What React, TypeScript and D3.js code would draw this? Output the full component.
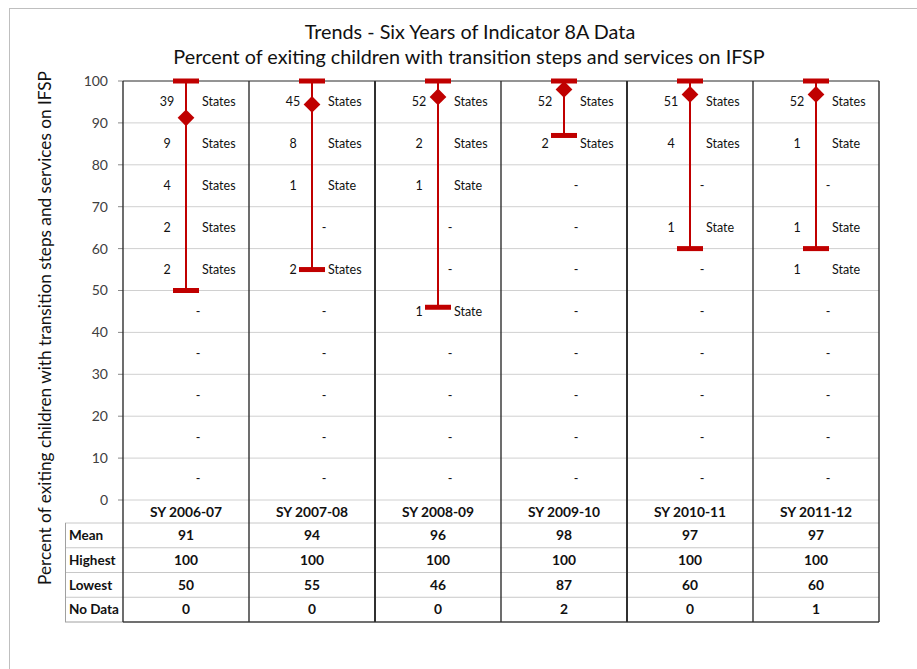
import React from "react";
import * as d3 from "d3";

// school years shown as columns
const years = ["SY 2006-07", "SY 2007-08", "SY 2008-09", "SY 2009-10", "SY 2010-11", "SY 2011-12"];
// mean marker values (table shows rounded)
const meanValues = [91.2, 94.4, 96.2, 98.0, 96.8, 96.8];
const highestValues = [100, 100, 100, 100, 100, 100];
const lowestValues = [50, 55, 46, 87, 60, 60];
const noDataValues = [0, 0, 0, 2, 0, 1];

// number of states per 10-point bin, from 90-100 down to 0-9
const binCenters = [95, 85, 75, 65, 55, 45, 35, 25, 15, 5];
const counts0607 = [39, 9, 4, 2, 2, 0, 0, 0, 0, 0];
const counts0708 = [45, 8, 1, 0, 2, 0, 0, 0, 0, 0];
const counts0809 = [52, 2, 1, 0, 0, 1, 0, 0, 0, 0];
const counts0910 = [52, 2, 0, 0, 0, 0, 0, 0, 0, 0];
const counts1011 = [51, 4, 0, 1, 0, 0, 0, 0, 0, 0];
const counts1112 = [52, 1, 0, 1, 1, 0, 0, 0, 0, 0];
const binCounts = [counts0607, counts0708, counts0809, counts0910, counts1011, counts1112];

const yTicks = [0, 10, 20, 30, 40, 50, 60, 70, 80, 90, 100];
const rowLabels = ["Mean", "Highest", "Lowest", "No Data"];

const RED = "#C00000";
const FONT = "Lato, 'Open Sans', sans-serif";

export default function App() {
  const width = 917;
  const height = 669;
  const plot = { left: 123, right: 879, top: 81, bottom: 500 };
  const tableBottom = 622;
  const labelLeft = 65;

  const x = d3.scaleBand<string>().domain(years).range([plot.left, plot.right]).paddingInner(0).paddingOuter(0);
  const y = d3.scaleLinear().domain([0, 100]).range([plot.bottom, plot.top]);

  const rowScale = d3
    .scaleBand<string>()
    .domain(rowLabels)
    .range([523, tableBottom]);

  const diamond = d3.symbol().type(d3.symbolSquare).size(140)();

  const tableRows = [
    meanValues.map((v) => Math.round(v)),
    highestValues,
    lowestValues,
    noDataValues,
  ];

  const yTitle = "Percent of exiting children with transition steps and services on IFSP";

  return (
    <svg
      width={width}
      height={height}
      style={{ position: "absolute", left: 0, top: 0, display: "block", background: "#fff" }}
      fontFamily={FONT}
    >
      {/* outer chart frame (top + left only visible) */}
      <line x1={9} y1={8.5} x2={width} y2={8.5} stroke="#bfbfbf" />
      <line x1={9.5} y1={8} x2={9.5} y2={height} stroke="#bfbfbf" />

      {/* titles */}
      <text x={470} y={39} textAnchor="middle" fontSize={19.8} fill="#111">
        Trends - Six Years of Indicator 8A Data
      </text>
      <text x={469} y={64} textAnchor="middle" fontSize={19.8} fill="#111">
        {yTitle}
      </text>

      {/* y axis title */}
      <text
        transform={`translate(51, ${328}) rotate(-90)`}
        textAnchor="middle"
        fontSize={17.2}
        fill="#111"
      >
        {yTitle}
      </text>

      {/* gridlines + ticks */}
      {yTicks.map((t) => (
        <g key={t}>
          <line x1={plot.left} x2={plot.right} y1={y(t)} y2={y(t)} stroke="#d0d0d0" strokeWidth={1} />
          <line x1={plot.left - 5} x2={plot.left} y1={y(t)} y2={y(t)} stroke="#888" />
          <text x={plot.left - 15} y={y(t)} dy="0.35em" textAnchor="end" fontSize={14} fill="#404040">
            {t}
          </text>
        </g>
      ))}

      {/* table horizontal lines */}
      {rowLabels.map((r) => (
        <line
          key={r}
          x1={labelLeft}
          x2={plot.right}
          y1={rowScale(r)!}
          y2={rowScale(r)!}
          stroke="#c8c8c8"
        />
      ))}
      <line x1={labelLeft} x2={plot.left} y1={tableBottom} y2={tableBottom} stroke="#a0a0a0" />
      <line x1={plot.left} x2={plot.right} y1={tableBottom} y2={tableBottom} stroke="#404040" strokeWidth={1.5} />
      <line x1={labelLeft + 0.5} x2={labelLeft + 0.5} y1={523} y2={tableBottom} stroke="#a0a0a0" />

      {/* top border of plot */}
      <line x1={plot.left} x2={plot.right} y1={plot.top} y2={plot.top} stroke="#404040" strokeWidth={1.2} />

      {/* column separators */}
      {[...years.map((yr) => x(yr)!), plot.right].map((xx, i) => (
        <line
          key={i}
          x1={xx}
          x2={xx}
          y1={plot.top}
          y2={tableBottom}
          stroke="#303030"
          strokeWidth={i === 2 || i === 4 ? 2 : 1.4}
        />
      ))}

      {/* row labels */}
      {rowLabels.map((r) => (
        <text
          key={r}
          x={labelLeft + 4}
          y={rowScale(r)! + rowScale.bandwidth() / 2}
          dy="0.35em"
          fontSize={13.5}
          fontWeight="bold"
          fill="#111"
        >
          {r}
        </text>
      ))}

      {years.map((yr, i) => {
        const cx = x(yr)! + x.bandwidth() / 2;
        return (
          <g key={yr}>
            {/* category header */}
            <text x={cx} y={512} dy="0.35em" textAnchor="middle" fontSize={13.8} fontWeight="bold" fill="#111">
              {yr}
            </text>
            {/* table values */}
            {tableRows.map((row, r) => (
              <text
                key={r}
                x={cx}
                y={rowScale(rowLabels[r])! + rowScale.bandwidth() / 2}
                dy="0.35em"
                textAnchor="middle"
                fontSize={13.8}
                fontWeight="bold"
                fill="#111"
              >
                {row[i]}
              </text>
            ))}

            {/* bin labels */}
            {binCounts[i].map((c, b) => {
              const ly = y(binCenters[b]);
              if (c === 0) {
                return (
                  <text key={b} x={cx + 12} y={ly} dy="0.35em" textAnchor="middle" fontSize={12.5} fill="#111">
                    -
                  </text>
                );
              }
              return (
                <g key={b}>
                  <text x={cx - 19} y={ly} dy="0.35em" textAnchor="middle" fontSize={12.5} fill="#111">
                    {c}
                  </text>
                  <text x={cx + 16} y={ly} dy="0.35em" fontSize={12.5} fill="#111">
                    {c === 1 ? "State" : "States"}
                  </text>
                </g>
              );
            })}

            {/* high-low bar */}
            <line x1={cx} x2={cx} y1={y(highestValues[i])} y2={y(lowestValues[i])} stroke={RED} strokeWidth={2} />
            <rect x={cx - 13} y={y(highestValues[i]) - 2.5} width={26} height={5} fill={RED} />
            <rect x={cx - 13} y={y(lowestValues[i]) - 2.5} width={26} height={5} fill={RED} />
            <path d={diamond ?? ""} transform={`translate(${cx},${y(meanValues[i])}) rotate(45)`} fill={RED} />
          </g>
        );
      })}
    </svg>
  );
}
